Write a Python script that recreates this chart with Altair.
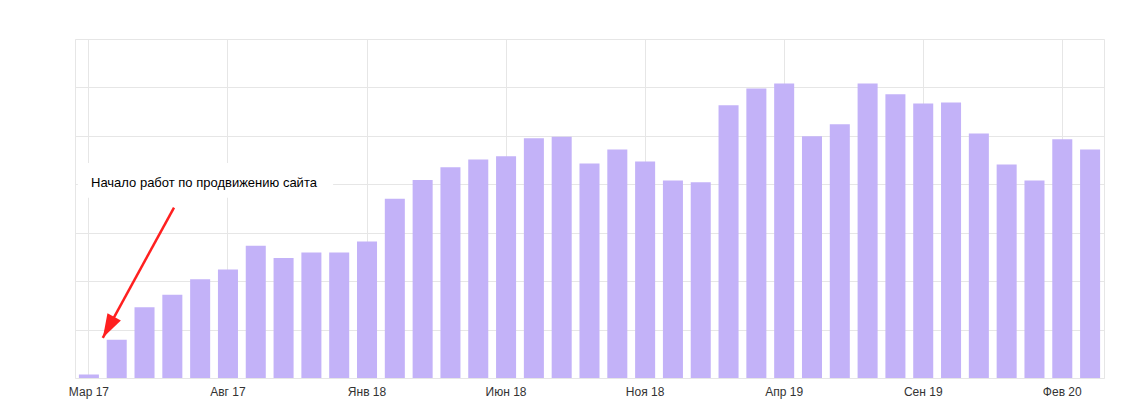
import altair as alt
import pandas as pd

months = ["Мар 17", "Апр 17", "Май 17", "Июн 17", "Июл 17", "Авг 17", "Сен 17", "Окт 17", "Ноя 17", "Дек 17",
          "Янв 18", "Фев 18", "Мар 18", "Апр 18", "Май 18", "Июн 18", "Июл 18", "Авг 18", "Сен 18", "Окт 18",
          "Ноя 18", "Дек 18", "Янв 19", "Фев 19", "Мар 19", "Апр 19", "Май 19", "Июн 19", "Июл 19", "Авг 19",
          "Сен 19", "Окт 19", "Ноя 19", "Дек 19", "Янв 20", "Фев 20", "Мар 20"]
values = [0.07, 0.79, 1.46, 1.72, 2.04, 2.24, 2.73, 2.48, 2.59, 2.59,
          2.82, 3.70, 4.09, 4.35, 4.51, 4.58, 4.95, 4.98, 4.43, 4.72,
          4.47, 4.08, 4.04, 5.63, 5.98, 6.08, 4.99, 5.24, 6.08, 5.86,
          5.67, 5.69, 5.05, 4.41, 4.08, 4.93, 4.72]
tick_months = ["Мар 17", "Авг 17", "Янв 18", "Июн 18", "Ноя 18", "Апр 19", "Сен 19", "Фев 20"]
grid_values = [0, 1, 2, 3, 4, 5, 6, 7]

annotation_text = ["Начало работ по продвижению сайта"]
# annotation anchors in month-index units (x) and value units (y)
arrow_from = [3.56, 3.52]
arrow_to = [1.0, 0.83]
box_x = [0.1, 9.28]
box_y = [3.72, 4.44]
text_pos = [0.575, 4.03]

bars_df = pd.DataFrame({"month": months, "value": values})

W, H = 1029, 339
n = len(months)

yscale = alt.Scale(domain=[0, 7], nice=False, zero=True)
yaxis = alt.Axis(title=None, labels=False, ticks=False, domain=False,
                 grid=True, gridColor="#e6e6e6", values=grid_values)

bars = alt.Chart(bars_df).mark_bar(color="#c3b2f8").encode(
    x=alt.X("month:N", sort=months,
            scale=alt.Scale(paddingInner=0.28, paddingOuter=0.14),
            axis=alt.Axis(values=tick_months, title=None, labelAngle=0, ticks=False, domain=False,
                          grid=True, gridColor="#e6e6e6", bandPosition=0.5,
                          labelFont="Liberation Sans", labelFontSize=12, labelColor="#333333",
                          labelPadding=8)),
    y=alt.Y("value:Q", scale=yscale, axis=yaxis),
)

xq = alt.Scale(domain=[0, n], nice=False, zero=False)

box_df = pd.DataFrame({"x": [box_x[0]], "x2": [box_x[1]], "y": [box_y[0]], "y2": [box_y[1]]})
box = alt.Chart(box_df).mark_rect(color="white").encode(
    x=alt.X("x:Q", scale=xq, axis=None), x2="x2:Q",
    y=alt.Y("y:Q", scale=yscale, axis=yaxis), y2="y2:Q",
)

text_df = pd.DataFrame({"x": [text_pos[0]], "y": [text_pos[1]], "t": annotation_text})
text = alt.Chart(text_df).mark_text(align="left", baseline="middle", font="Liberation Sans",
                                    fontSize=13, color="#000000").encode(
    x=alt.X("x:Q", scale=xq, axis=None),
    y=alt.Y("y:Q", scale=yscale, axis=yaxis),
    text="t:N",
)

arrow_df = pd.DataFrame({"x": [arrow_from[0]], "y": [arrow_from[1]],
                         "x2": [arrow_to[0]], "y2": [arrow_to[1]]})
line = alt.Chart(arrow_df).mark_rule(color="#ff2020", strokeWidth=2.5).encode(
    x=alt.X("x:Q", scale=xq, axis=None), x2="x2:Q",
    y=alt.Y("y:Q", scale=yscale, axis=yaxis), y2="y2:Q",
)

head_df = pd.DataFrame({"x": [arrow_to[0]], "y": [arrow_to[1]]})
head = alt.Chart(head_df).mark_point(shape="M0,0L-0.45,1.4L0.45,1.4Z", filled=True, opacity=1,
                                     color="#ff2020", size=1150, angle=208.6).encode(
    x=alt.X("x:Q", scale=xq, axis=None),
    y=alt.Y("y:Q", scale=yscale, axis=yaxis),
)

chart = alt.layer(bars, box, text, line, head).resolve_scale(x="independent").properties(
    width=W, height=H,
    autosize=alt.AutoSizeParams(type="none"),
    padding={"left": 75, "top": 39, "right": 36, "bottom": 42},
    background="white",
).configure_view(stroke="#e6e6e6")

chart.save("out.html", embed_options={"renderer": "svg", "actions": False})
